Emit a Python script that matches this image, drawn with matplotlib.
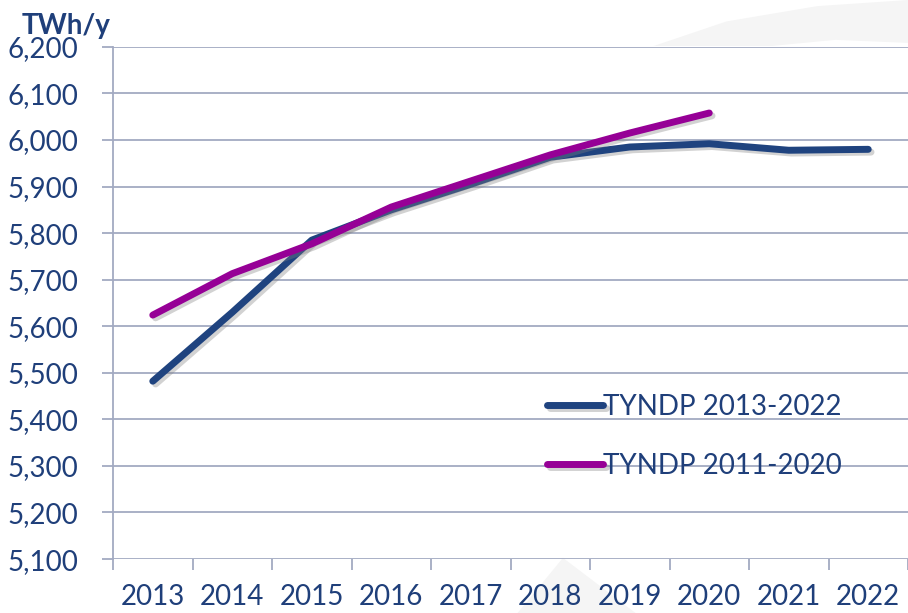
import matplotlib.pyplot as plt
import matplotlib.patheffects as pe
from matplotlib.patches import Polygon
from matplotlib.ticker import FuncFormatter, FixedLocator

years = ["2013", "2014", "2015", "2016", "2017", "2018", "2019", "2020", "2021", "2022"]
tyndp_2013 = [5482, 5630, 5785, 5850, 5905, 5963, 5985, 5992, 5978, 5980]
tyndp_2011 = [5624, 5713, 5777, 5856, 5912, 5968, 6015, 6058]

plt.rcParams['font.family'] = ['Lato', 'DejaVu Sans']
txt = "#1F3F7A"
grid_c = "#A3AAC2"

fig = plt.figure(figsize=(9.08, 6.13), dpi=100)

# faint watermark shapes in the background
fig.patches.append(Polygon([[0.72, 0.925], [0.80, 0.965], [0.90, 0.99], [1.0, 1.0], [1.0, 0.93],
                            [0.92, 0.935], [0.85, 0.925]],
                           closed=True, transform=fig.transFigure, fc="#F5F5F5", ec="none", zorder=-5))
fig.patches.append(Polygon([[0.57, 0.0], [0.62, 0.09], [0.70, 0.0]],
                           closed=True, transform=fig.transFigure, fc="#F5F5F5", ec="none", zorder=-5))

ax = fig.add_axes([0.1245, 0.088, 0.8755, 0.8355])
ax.patch.set_alpha(0)

x = list(range(len(years)))
shadow = [pe.SimpleLineShadow(offset=(2, -2), shadow_color="gray", alpha=0.35), pe.Normal()]
ax.plot(x, tyndp_2013, color="#1F437F", lw=5, solid_capstyle="round",
        solid_joinstyle="round", label="TYNDP 2013-2022", path_effects=shadow, zorder=3)
ax.plot(x[:len(tyndp_2011)], tyndp_2011, color="#960096", lw=5, solid_capstyle="round",
        solid_joinstyle="round", label="TYNDP 2011-2020", path_effects=shadow, zorder=4)

ax.set_xlim(-0.5, len(years) - 0.5)
ax.set_ylim(5100, 6200)
ax.set_yticks(range(5100, 6201, 100))
ax.yaxis.set_major_formatter(FuncFormatter(lambda v, p: f"{int(v):,}"))
ax.grid(axis="y", color=grid_c, lw=1.3)
ax.set_axisbelow(True)

ax.set_xticks(x)
ax.set_xticklabels(years)
ax.xaxis.set_minor_locator(FixedLocator([i - 0.5 for i in range(len(years) + 1)]))
ax.tick_params(axis="x", which="major", length=0, pad=18, labelsize=20, labelcolor=txt)
ax.tick_params(axis="x", which="minor", length=8, width=1.3, color=grid_c)
ax.tick_params(axis="y", length=8, width=1.3, color=grid_c, pad=17, labelsize=20, labelcolor=txt)

for s in ["top", "right", "bottom"]:
    ax.spines[s].set_visible(False)
ax.spines["left"].set_color(grid_c)
ax.spines["left"].set_linewidth(1.3)

fig.text(0.024, 0.945, "TWh/y", fontsize=20, fontweight="bold", color=txt)

leg = ax.legend(loc="upper left", bbox_to_anchor=(0.515, 0.372), frameon=False,
                fontsize=20, labelcolor=txt, handlelength=2.0, handletextpad=0.0,
                labelspacing=1.2)

fig.savefig("out.png", dpi=100)
